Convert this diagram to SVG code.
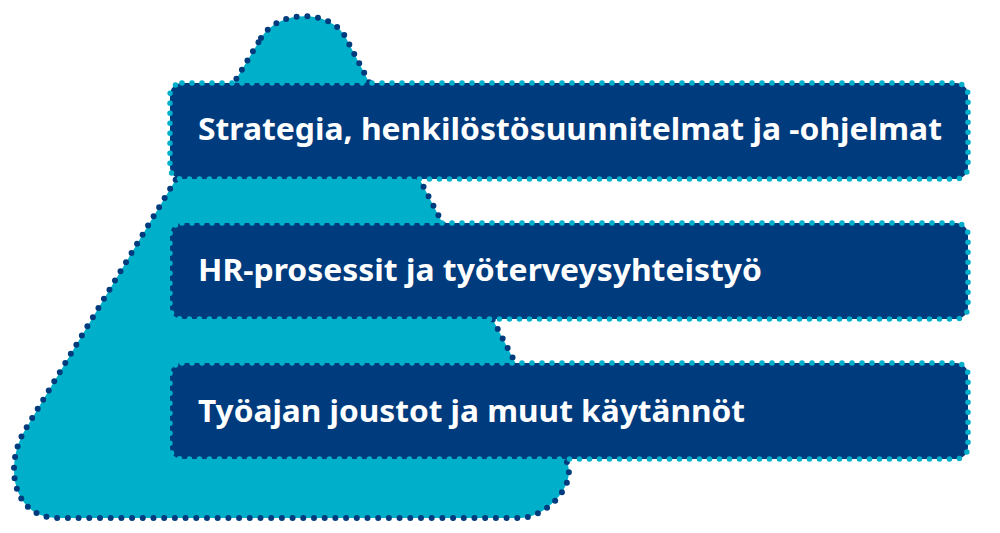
<svg xmlns="http://www.w3.org/2000/svg" width="1000" height="533" viewBox="0 0 1000 533">
  <style>
    .pyr { fill: #00b0cb; stroke: #003b7e; stroke-width: 6; stroke-dasharray: 0 10.7; stroke-linecap: round; stroke-linejoin: round; }
    .box { fill: #003b7e; stroke: #00b0cb; stroke-width: 5.5; stroke-dasharray: 0 10; stroke-linecap: round; }
    .lbl { fill: #ffffff; font-family: "Noto Sans", "Open Sans", "Liberation Sans", sans-serif; font-weight: 700; font-size: 31px; }
  </style>
  <rect width="1000" height="533" fill="#ffffff"/>
  <g id="pyramid">
    <path class="pyr" d="M 261,38 C 278.5,9 331,9 346,38 L 566,460 C 579,485 545,518 520,518 L 58,518 C 12,518 4,465 25,430 Z"/>
  </g>
  <g id="connectors"></g>
  <g id="box1">
    <rect class="box" x="170" y="83" width="798" height="96" rx="12"/>
    <text class="lbl" x="198" y="140" textLength="744" lengthAdjust="spacingAndGlyphs">Strategia, henkilöstösuunnitelmat ja -ohjelmat</text>
  </g>
  <g id="box2">
    <rect class="box" x="170" y="223" width="798" height="96" rx="12"/>
    <text class="lbl" x="198" y="281" textLength="564" lengthAdjust="spacingAndGlyphs">HR-prosessit ja työterveysyhteistyö</text>
  </g>
  <g id="box3">
    <rect class="box" x="170" y="363" width="798" height="96" rx="12"/>
    <text class="lbl" x="198" y="422" textLength="547" lengthAdjust="spacingAndGlyphs">Työajan joustot ja muut käytännöt</text>
  </g>
</svg>
